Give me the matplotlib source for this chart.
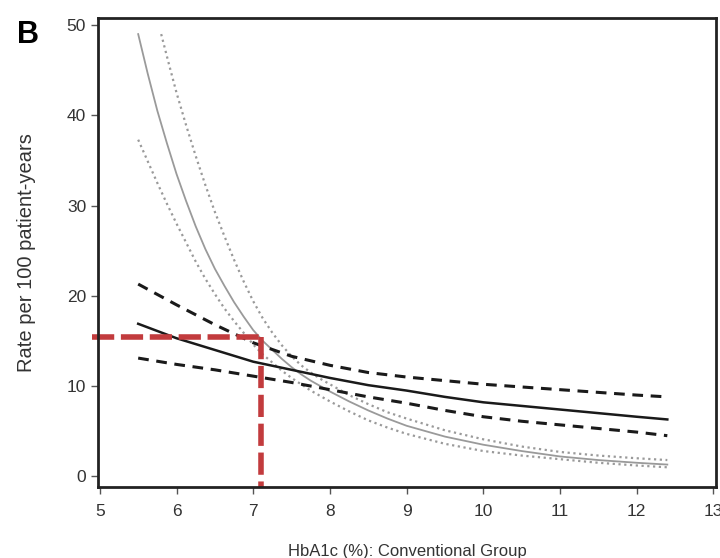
import matplotlib
matplotlib.use("Agg")
import matplotlib.pyplot as plt

plt.rcParams["font.family"] = ["Liberation Sans", "DejaVu Sans"]

hba1c = [5.5, 5.625, 5.75, 5.875, 6.0, 6.125, 6.25, 6.375, 6.5, 6.625, 6.75,
         6.875, 7.0, 7.125, 7.25, 7.375, 7.5, 7.625, 7.75, 7.875, 8.0,
         8.25, 8.5, 8.75, 9.0, 9.5, 10.0, 10.5, 11.0, 11.5, 12.0, 12.4]
gray_mid = [49.0, 44.6, 40.5, 36.9, 33.5, 30.5, 27.7, 25.2, 23.0, 21.1, 19.3,
            17.7, 16.2, 15.0, 14.0, 13.0, 12.1, 11.3, 10.6, 10.0, 9.4,
            8.3, 7.3, 6.4, 5.6, 4.4, 3.5, 2.8, 2.2, 1.8, 1.5, 1.3]
gray_low = [37.3, 34.9, 32.5, 30.2, 28.0, 25.9, 23.8, 21.9, 20.2, 18.6, 17.2,
            15.9, 14.6, 13.5, 12.6, 11.7, 10.9, 10.2, 9.5, 8.9, 8.3,
            7.2, 6.2, 5.4, 4.7, 3.6, 2.8, 2.3, 1.9, 1.5, 1.2, 1.0]

hba1c_up = [5.8, 5.9, 6.0, 6.125, 6.25, 6.375, 6.5, 6.625, 6.75, 6.875, 7.0,
            7.125, 7.25, 7.375, 7.5, 7.625, 7.75, 7.875, 8.0,
            8.25, 8.5, 8.75, 9.0, 9.5, 10.0, 10.5, 11.0, 11.5, 12.0, 12.4]
gray_up = [49.0, 45.7, 42.5, 38.9, 35.5, 32.3, 29.3, 26.6, 24.0, 21.6, 19.4,
           17.5, 15.9, 14.5, 13.3, 12.3, 11.5, 10.8, 10.2,
           9.0, 8.0, 7.1, 6.4, 5.1, 4.1, 3.3, 2.7, 2.3, 2.0, 1.8]

# black curves (flat)
hba1c_b = [5.5, 6.0, 6.5, 7.0, 7.5, 8.0, 8.5, 9.0, 9.5, 10.0, 10.5, 11.0, 11.5, 12.0, 12.4]
black_mid = [16.9, 15.3, 14.0, 12.7, 11.8, 10.9, 10.1, 9.5, 8.8, 8.2, 7.8, 7.4, 7.0, 6.6, 6.3]
black_up = [21.3, 19.0, 16.8, 14.8, 13.3, 12.3, 11.5, 11.0, 10.6, 10.2, 9.9, 9.6, 9.3, 9.0, 8.8]
black_low = [13.1, 12.4, 11.8, 11.1, 10.4, 9.6, 8.8, 8.1, 7.3, 6.6, 6.1, 5.7, 5.3, 4.9, 4.5]

# red reference point
ref_x = 7.1
ref_y = 15.4

fig = plt.figure(figsize=(7.2, 5.58), dpi=100)
ax = fig.add_axes([0.136, 0.127, 0.859, 0.841])

gray = "#9a9a9a"
ax.plot(hba1c, gray_mid, color=gray, lw=1.3)
ax.plot(hba1c, gray_low, color=gray, lw=1.6, linestyle=(0, (1, 1.6)))
ax.plot(hba1c_up, gray_up, color=gray, lw=1.6, linestyle=(0, (1, 1.6)))

ax.plot(hba1c_b, black_mid, color="#1a1a1a", lw=1.8)
ax.plot(hba1c_b, black_up, color="#1a1a1a", lw=2.2, linestyle=(0, (3.5, 2.5)))
ax.plot(hba1c_b, black_low, color="#1a1a1a", lw=2.2, linestyle=(0, (3.5, 2.5)))

red = "#c23b3d"
ax.plot([4.9, ref_x], [ref_y, ref_y], color=red, lw=4, linestyle=(0, (4, 1.2)),
        clip_on=False)
ax.plot([ref_x, ref_x], [ref_y, -1.2], color=red, lw=4, linestyle=(0, (4, 1.2)),
        clip_on=False)

ax.set_xlim(4.975, 13.04)
ax.set_ylim(-1.2, 50.8)
ax.set_xticks(range(5, 14))
ax.set_yticks(range(0, 51, 10))
ax.tick_params(direction="out", length=5, width=1, color="#555555",
               labelsize=12.5, labelcolor="#333333")
ax.tick_params(axis="x", pad=7)
for s in ax.spines.values():
    s.set_linewidth(2)
    s.set_color("#222222")

ax.set_xlabel("HbA1c (%): Conventional Group", fontsize=12, color="#333333", labelpad=18)
ax.set_ylabel("Rate per 100 patient-years", fontsize=14.5, color="#333333", labelpad=22)

fig.text(0.024, 0.965, "B", fontsize=22, fontweight="bold", va="top", ha="left")

fig.savefig("out.png", dpi=100)
